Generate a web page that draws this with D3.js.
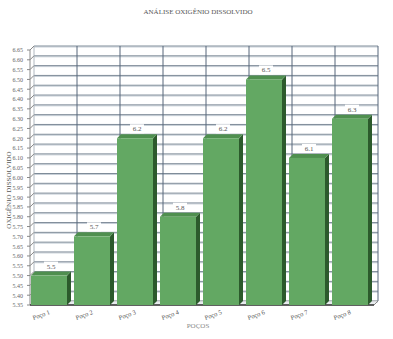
<!DOCTYPE html>
<html>
<head>
<meta charset="utf-8">
<script src="https://cdn.jsdelivr.net/npm/d3@7"></script>
<style>
  body { margin: 0; background: #fff; }
  text { font-family: "Liberation Serif", serif; }
</style>
</head>
<body>
<div id="chart"></div>
<script>
// chart data
var categories = ["Poço 1", "Poço 2", "Poço 3", "Poço 4", "Poço 5", "Poço 6", "Poço 7", "Poço 8"];
var values = [5.5, 5.7, 6.2, 5.8, 6.2, 6.5, 6.1, 6.3];
var valueLabels = ["5.5", "5.7", "6.2", "5.8", "6.2", "6.5", "6.1", "6.3"];
var yTicks = d3.range(27).map(function (i) { return +(5.35 + i * 0.05).toFixed(2); });

var svgWidth = 393;
var svgHeight = 339;
var depth = 4;

var svg = d3.select("#chart")
    .append("svg")
    .attr("width", svgWidth)
    .attr("height", svgHeight);

var xBand = d3.scaleBand()
    .domain(categories)
    .range([30, 374])
    .paddingInner(0)
    .paddingOuter(0);

var yLinearScale = d3.scaleLinear()
    .domain([5.35, 6.65])
    .range([305, 50]);

// back wall grid
var grid = svg.append("g").attr("transform", `translate(${depth}, ${-depth})`);
yTicks.forEach(function (t) {
    grid.append("line")
        .attr("x1", 30).attr("x2", 374)
        .attr("y1", yLinearScale(t) + 1).attr("y2", yLinearScale(t) + 1)
        .attr("stroke", "#c8d0d8").attr("stroke-width", 1);
    grid.append("line")
        .attr("x1", 30).attr("x2", 374)
        .attr("y1", yLinearScale(t)).attr("y2", yLinearScale(t))
        .attr("stroke", "#7f8c99").attr("stroke-width", 1);
});
categories.forEach(function (c) {
    var x = xBand(c) + xBand.bandwidth();
    grid.append("line")
        .attr("x1", x).attr("x2", x)
        .attr("y1", yLinearScale(6.65)).attr("y2", yLinearScale(5.35))
        .attr("stroke", "#56677a").attr("stroke-width", 1);
});

// left wall / axis
svg.append("line")
    .attr("x1", 30).attr("x2", 30)
    .attr("y1", yLinearScale(6.65)).attr("y2", yLinearScale(5.35))
    .attr("stroke", "#888").attr("stroke-width", 1);
svg.append("line")
    .attr("x1", 30 + depth).attr("x2", 30 + depth)
    .attr("y1", yLinearScale(6.65) - depth).attr("y2", yLinearScale(5.35) - depth)
    .attr("stroke", "#b0b8c0").attr("stroke-width", 1);
yTicks.forEach(function (t) {
    svg.append("line")
        .attr("x1", 30).attr("x2", 30 + depth)
        .attr("y1", yLinearScale(t)).attr("y2", yLinearScale(t) - depth)
        .attr("stroke", "#888");
    svg.append("line")
        .attr("x1", 27).attr("x2", 30)
        .attr("y1", yLinearScale(t)).attr("y2", yLinearScale(t))
        .attr("stroke", "#888");
});

var leftAxis = d3.axisLeft(yLinearScale)
    .tickValues(yTicks)
    .tickFormat(d3.format(".2f"))
    .tickSize(0)
    .tickPadding(4);
var yAxisG = svg.append("g")
    .attr("transform", "translate(27, 0)")
    .call(leftAxis);
yAxisG.select(".domain").remove();
yAxisG.selectAll("text")
    .attr("font-size", 6)
    .attr("fill", "#666")
    .attr("font-family", "Liberation Serif, serif");

// floor
var floorY = yLinearScale(5.35);
svg.append("path")
    .attr("d", `M30,${floorY} L374,${floorY} L${374 + depth},${floorY - depth} L${30 + depth},${floorY - depth} Z`)
    .attr("fill", "#e8ecef").attr("stroke", "#999").attr("stroke-width", 0.5);
svg.append("line")
    .attr("x1", 30).attr("x2", 374)
    .attr("y1", floorY).attr("y2", floorY)
    .attr("stroke", "#333").attr("stroke-width", 1.5);
svg.append("line")
    .attr("x1", 374).attr("x2", 374 + depth)
    .attr("y1", floorY).attr("y2", floorY - depth)
    .attr("stroke", "#888");

// bars
var barW = 36;
var bars = svg.selectAll("g.bar")
    .data(values)
    .enter()
    .append("g")
    .attr("class", "bar");

bars.append("path")
    .attr("d", function (d, i) {
        var x0 = xBand(categories[i]) + 1, x1 = x0 + barW;
        var y0 = yLinearScale(d), y1 = floorY;
        return `M${x1},${y0} L${x1 + depth},${y0 - depth} L${x1 + depth},${y1 - depth} L${x1},${y1} Z`;
    })
    .attr("fill", "#2c5a2c");

bars.append("path")
    .attr("d", function (d, i) {
        var x0 = xBand(categories[i]) + 1, x1 = x0 + barW;
        var y0 = yLinearScale(d);
        return `M${x0},${y0} L${x0 + depth},${y0 - depth} L${x1 + depth},${y0 - depth} L${x1},${y0} Z`;
    })
    .attr("fill", "#4f8f4f");

bars.append("rect")
    .attr("x", function (d, i) { return xBand(categories[i]) + 1; })
    .attr("y", function (d) { return yLinearScale(d); })
    .attr("width", barW)
    .attr("height", function (d) { return floorY - yLinearScale(d); })
    .attr("fill", "#63a863");

// value labels
bars.append("rect")
    .attr("x", function (d, i) { return xBand(categories[i]) + 1 + barW / 2 - 5; })
    .attr("y", function (d) { return yLinearScale(d) - depth - 10; })
    .attr("width", 14)
    .attr("height", 9)
    .attr("fill", "#fff");
bars.append("text")
    .attr("x", function (d, i) { return xBand(categories[i]) + 1 + barW / 2 + 2; })
    .attr("y", function (d) { return yLinearScale(d) - depth - 3; })
    .attr("text-anchor", "middle")
    .attr("font-size", 7)
    .attr("fill", "#555")
    .text(function (d, i) { return valueLabels[i]; });

// x labels
categories.forEach(function (c) {
    var x = xBand(c) + 12;
    svg.append("text")
        .attr("transform", `translate(${x}, ${floorY + 12}) rotate(-20)`)
        .attr("text-anchor", "middle")
        .attr("font-size", 6.5)
        .attr("fill", "#555")
        .text(c);
});

// titles
svg.append("text")
    .attr("x", 198).attr("y", 14)
    .attr("text-anchor", "middle")
    .attr("font-size", 7)
    .attr("fill", "#555")
    .text("ANÁLISE OXIGÊNIO DISSOLVIDO");

svg.append("text")
    .attr("x", 198).attr("y", 328)
    .attr("text-anchor", "middle")
    .attr("font-size", 7)
    .attr("fill", "#888")
    .text("POÇOS");

svg.append("text")
    .attr("transform", "translate(11, 190) rotate(-90)")
    .attr("text-anchor", "middle")
    .attr("font-size", 7)
    .attr("fill", "#555")
    .text("OXIGÊNIO DISSOLVIDO");
</script>
</body>
</html>
